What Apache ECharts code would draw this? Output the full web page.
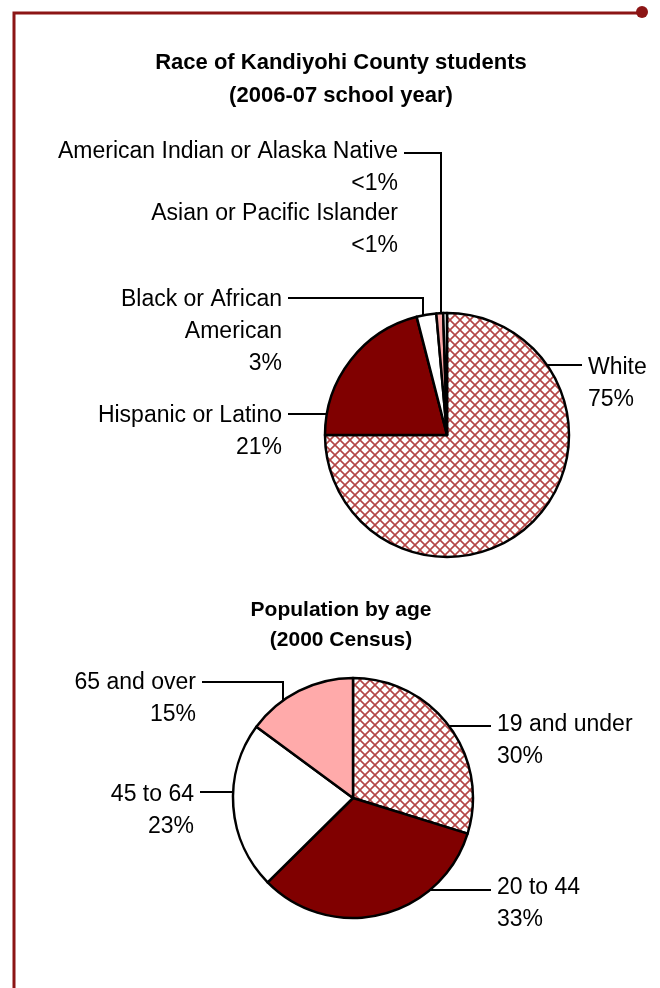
<!DOCTYPE html>
<html>
<head>
<meta charset="utf-8">
<script src="https://cdn.jsdelivr.net/npm/echarts@6/dist/echarts.min.js"></script>
<style>
html, body { margin: 0; padding: 0; background: #fff; }
#main { width: 660px; height: 988px; }
</style>
</head>
<body>
<div id="main"></div>
<script>
// data
var raceNames = ['White', 'Hispanic or Latino', 'Black or African\nAmerican', 'Asian or Pacific Islander', 'American Indian or Alaska Native'];
var raceValues = [75, 21, 2.6, 0.9, 0.5];
var ageNames = ['19 and under', '20 to 44', '45 to 64', '65 and over'];
var ageValues = [29.8, 32.8, 22.5, 14.9];

// crosshatch fill like the excel pattern
function hatch() {
    var c = document.createElement('canvas');
    c.width = 10; c.height = 10;
    var ctx = c.getContext('2d');
    ctx.fillStyle = '#fff';
    ctx.fillRect(0, 0, 10, 10);
    ctx.strokeStyle = '#b44646';
    ctx.lineWidth = 1.6;
    ctx.beginPath();
    ctx.moveTo(-1, -1); ctx.lineTo(11, 11);
    ctx.moveTo(11, -1); ctx.lineTo(-1, 11);
    ctx.stroke();
    return { image: c, repeat: 'repeat' };
}
var pat = hatch();
var raceColors = [pat, '#800000', '#ffffff', '#ffaaaa', '#ffffff'];
var ageColors = [pat, '#800000', '#ffffff', '#ffaaaa'];

// label placement (excel style call-outs)
var racePie = { cx: 447, cy: 435, r: 122 };
var agePie = { cx: 353, cy: 798, r: 120 };
var raceLabelPos = [
    { x: 588, y: 352, align: 'left', lineY: 365 },
    { x: 282, y: 400, align: 'right', lineY: 414 },
    { x: 282, y: 284, align: 'right', lineY: 298, dropX: 423 },
    { x: 398, y: 198, align: 'right' },
    { x: 398, y: 136, align: 'right', lineY: 153, dropX: 441 }
];
var ageLabelPos = [
    { x: 497, y: 709, align: 'left', lineY: 726 },
    { x: 497, y: 872, align: 'left', lineY: 890 },
    { x: 194, y: 779, align: 'right', lineY: 792 },
    { x: 196, y: 667, align: 'right', lineY: 682, dropX: 283 }
];

function leader(p, pie) {
    if (p.lineY == null) return null;
    var sx = p.align == 'right' ? p.x + 6 : p.x - 6;
    if (p.dropX != null) {
        var dx = p.dropX - pie.cx;
        var ey = pie.cy - Math.sqrt(pie.r * pie.r - dx * dx);
        return [[p.dropX, ey], [p.dropX, p.lineY], [sx, p.lineY]];
    }
    var dy = p.lineY - pie.cy;
    var w = Math.sqrt(pie.r * pie.r - dy * dy);
    var ex = p.align == 'right' ? pie.cx - w : pie.cx + w;
    return [[ex, p.lineY], [(ex + sx) / 2, p.lineY], [sx, p.lineY]];
}

function layoutFor(posList, pie) {
    return function (params) {
        var p = posList[params.dataIndex];
        var res = { x: p.x, y: p.y, align: p.align, verticalAlign: 'top' };
        var pts = leader(p, pie);
        if (pts) res.labelLinePoints = pts;
        return res;
    };
}

function makeData(names, values, colors, posList) {
    var arr = [];
    for (var i = 0; i < names.length; i++) {
        var item = { name: names[i], value: values[i], itemStyle: { color: colors[i] } };
        if (posList[i].lineY == null) item.labelLine = { show: false };
        arr.push(item);
    }
    return arr;
}

function pctLabel(p) {
    var pc = p.percent < 1 ? '<1%' : Math.round(p.percent) + '%';
    return p.name + '\n' + pc;
}

var labelStyle = {
    show: true,
    formatter: pctLabel,
    fontFamily: 'Liberation Sans',
    fontSize: 23,
    lineHeight: 32,
    color: '#000'
};

var myChart = echarts.init(document.getElementById('main'), null, { renderer: 'canvas' });
var option = {
    backgroundColor: '#fff',
    animation: false,
    title: [{
        text: 'Race of Kandiyohi County students\n(2006-07 school year)',
        left: 341,
        top: 46,
        textAlign: 'center',
        padding: 0,
        textStyle: { fontFamily: 'Liberation Sans', fontSize: 22, fontWeight: 'bold', lineHeight: 33, color: '#000' }
    }, {
        text: 'Population by age\n(2000 Census)',
        left: 341,
        top: 595,
        textAlign: 'center',
        padding: 0,
        textStyle: { fontFamily: 'Liberation Sans', fontSize: 21, fontWeight: 'bold', lineHeight: 30, color: '#000' }
    }],
    graphic: [{
        type: 'polyline',
        shape: { points: [[14, 988], [14, 13], [641, 13]] },
        style: { stroke: '#8c1515', lineWidth: 3, fill: null }
    }, {
        type: 'circle',
        shape: { cx: 642, cy: 12, r: 6 },
        style: { fill: '#8c1515' }
    }],
    series: [{
        type: 'pie',
        center: [racePie.cx, racePie.cy],
        radius: racePie.r,
        startAngle: 90,
        clockwise: true,
        avoidLabelOverlap: false,
        itemStyle: { borderColor: '#000', borderWidth: 2.5 },
        emphasis: { disabled: true },
        label: labelStyle,
        labelLine: { show: true, lineStyle: { color: '#000', width: 2 } },
        labelLayout: layoutFor(raceLabelPos, racePie),
        data: makeData(raceNames, raceValues, raceColors, raceLabelPos)
    }, {
        type: 'pie',
        center: [agePie.cx, agePie.cy],
        radius: agePie.r,
        startAngle: 90,
        clockwise: true,
        avoidLabelOverlap: false,
        itemStyle: { borderColor: '#000', borderWidth: 2.5 },
        emphasis: { disabled: true },
        label: labelStyle,
        labelLine: { show: true, lineStyle: { color: '#000', width: 2 } },
        labelLayout: layoutFor(ageLabelPos, agePie),
        data: makeData(ageNames, ageValues, ageColors, ageLabelPos)
    }]
};
myChart.setOption(option);
</script>
</body>
</html>
